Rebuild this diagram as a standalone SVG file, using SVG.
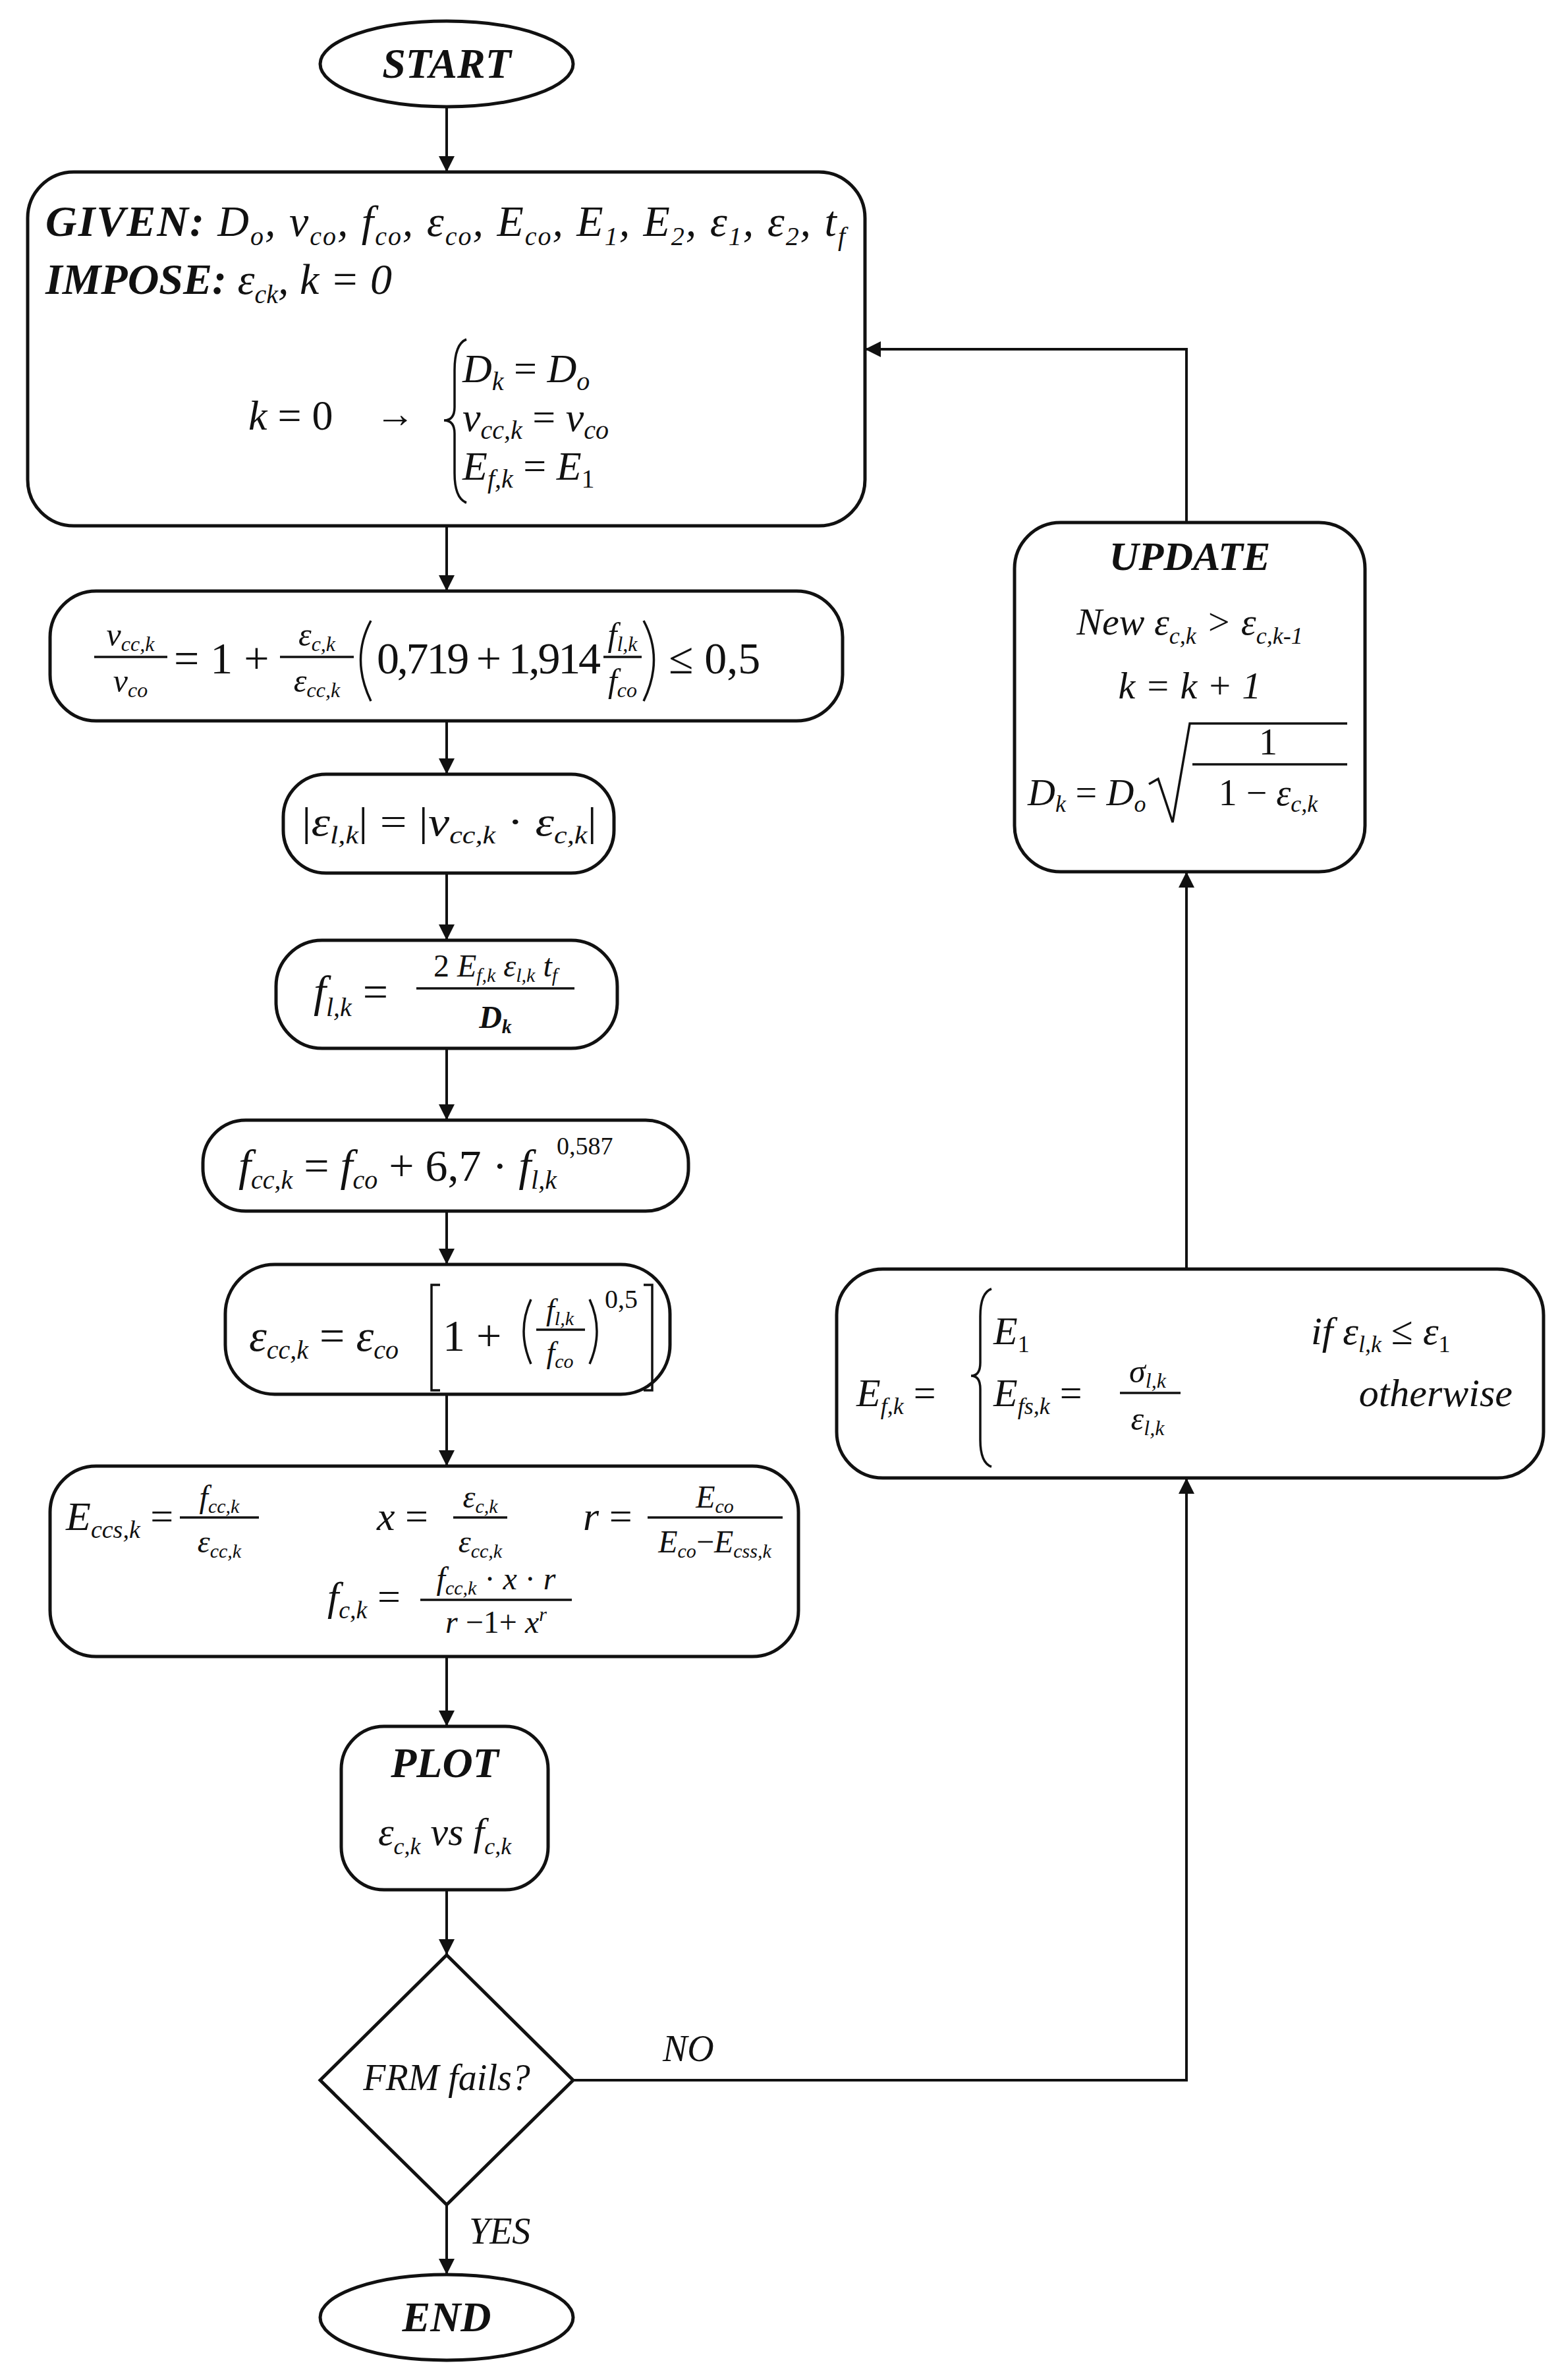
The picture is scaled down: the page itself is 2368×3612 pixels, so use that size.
<svg xmlns="http://www.w3.org/2000/svg" width="2368" height="3612" viewBox="0 0 2368 3612">
<style>
.t{font-family:"Liberation Serif","Times New Roman",serif;font-style:italic;fill:#111}
.n{font-style:normal}
.bi{font-weight:bold}
.box{fill:#fff;stroke:#111;stroke-width:5}
.c{fill:none;stroke:#111;stroke-width:4}
.ln{stroke:#111;stroke-width:3.5;fill:none}
</style>
<defs>
<marker id="a" viewBox="0 0 10 10" refX="10" refY="5" markerWidth="6" markerHeight="6" orient="auto"><path d="M0,0 L10,5 L0,10 z" fill="#111"/></marker>
</defs>
<rect width="2368" height="3612" fill="#fff"/>
<g id="connectors">
<path class="c" marker-end="url(#a)" d="M678,162 V261"/>
<path class="c" marker-end="url(#a)" d="M678,798 V897"/>
<path class="c" marker-end="url(#a)" d="M678,1094 V1175"/>
<path class="c" marker-end="url(#a)" d="M678,1325 V1427"/>
<path class="c" marker-end="url(#a)" d="M678,1591 V1700"/>
<path class="c" marker-end="url(#a)" d="M678,1838 V1919"/>
<path class="c" marker-end="url(#a)" d="M678,2116 V2225"/>
<path class="c" marker-end="url(#a)" d="M678,2514 V2620"/>
<path class="c" marker-end="url(#a)" d="M678,2868 V2967"/>
<path class="c" marker-end="url(#a)" d="M678,3346 V3452"/>
<path class="c" marker-end="url(#a)" d="M870,3157 H1801 V2243"/>
<path class="c" marker-end="url(#a)" d="M1801,1926 V1323"/>
<path class="c" marker-end="url(#a)" d="M1801,793 V530 H1313"/>
<text class="t" x="1006" y="3128" font-size="56">NO</text>
<text class="t" x="712" y="3405" font-size="56">YES</text>
</g>
<g id="start">
<ellipse class="box" cx="678" cy="97" rx="192" ry="65"/>
<text class="t bi" x="678" y="118" font-size="64" text-anchor="middle">START</text>
</g>
<g id="given">
<rect class="box" x="42" y="261" width="1271" height="537" rx="70"/>
<text class="t" x="69" y="358" font-size="66" textLength="1214" lengthAdjust="spacing"><tspan class="bi">GIVEN:</tspan> D<tspan font-size="40" dy="14">o</tspan><tspan dy="-14">, ν</tspan><tspan font-size="40" dy="14">co</tspan><tspan dy="-14">, f</tspan><tspan font-size="40" dy="14">co</tspan><tspan dy="-14">, ε</tspan><tspan font-size="40" dy="14">co</tspan><tspan dy="-14">, E</tspan><tspan font-size="40" dy="14">co</tspan><tspan dy="-14">, E</tspan><tspan font-size="40" dy="14">1</tspan><tspan dy="-14">, E</tspan><tspan font-size="40" dy="14">2</tspan><tspan dy="-14">, ε</tspan><tspan font-size="40" dy="14">1</tspan><tspan dy="-14">, ε</tspan><tspan font-size="40" dy="14">2</tspan><tspan dy="-14">, t</tspan><tspan font-size="40" dy="14">f</tspan></text>
<text class="t" x="69" y="446" font-size="66"><tspan class="bi">IMPOSE:</tspan> ε<tspan font-size="40" dy="14">ck</tspan><tspan dy="-14">, k = 0</tspan></text>
<text class="t" x="377" y="652" font-size="64">k <tspan class="n">= 0</tspan></text>
<text class="t n" x="570" y="648" font-size="60">→</text>
<path class="ln" d="M708,515 Q690,522 690,562 L690,618 Q690,638 674,638 Q690,638 690,658 L690,718 Q690,756 708,763"/>
<text class="t" x="702" y="580" font-size="62">D<tspan font-size="40" dy="12">k</tspan><tspan class="n" dy="-12"> = </tspan>D<tspan font-size="40" dy="12">o</tspan></text>
<text class="t" x="702" y="654" font-size="62">ν<tspan font-size="40" dy="12">cc,k</tspan><tspan class="n" dy="-12"> = </tspan>ν<tspan font-size="40" dy="12">co</tspan></text>
<text class="t" x="702" y="728" font-size="62">E<tspan font-size="40" dy="12">f,k</tspan><tspan class="n" dy="-12"> = </tspan>E<tspan class="n" font-size="40" dy="12">1</tspan></text>
</g>
<g id="poisson">
<rect class="box" x="76" y="897" width="1203" height="197" rx="70"/>
<text class="t" x="198" y="980" font-size="50" text-anchor="middle">ν<tspan font-size="32" dy="8">cc,k</tspan></text>
<line class="ln" x1="143" y1="997" x2="254" y2="997"/>
<text class="t" x="198" y="1050" font-size="50" text-anchor="middle">ν<tspan font-size="32" dy="8">co</tspan></text>
<text class="t n" x="264" y="1022" font-size="68">= 1 +</text>
<text class="t" x="481" y="980" font-size="50" text-anchor="middle">ε<tspan font-size="32" dy="8">c,k</tspan></text>
<line class="ln" x1="425" y1="997" x2="537" y2="997"/>
<text class="t" x="481" y="1050" font-size="50" text-anchor="middle">ε<tspan font-size="32" dy="8">cc,k</tspan></text>
<path class="ln" d="M563,942 Q532,1000 563,1064"/>
<text class="t n" x="572" y="1022" font-size="68" textLength="340" lengthAdjust="spacing">0,719 + 1,914</text>
<text class="t" x="945" y="980" font-size="50" text-anchor="middle">f<tspan font-size="32" dy="8">l,k</tspan></text>
<line class="ln" x1="916" y1="997" x2="974" y2="997"/>
<text class="t" x="945" y="1050" font-size="50" text-anchor="middle">f<tspan font-size="32" dy="8">co</tspan></text>
<path class="ln" d="M977,942 Q1008,1000 977,1064"/>
<text class="t n" x="1015" y="1022" font-size="68">≤ 0,5</text>
</g>
<g id="lateral-strain">
<rect class="box" x="430" y="1175" width="502" height="150" rx="65"/>
<text class="t" x="458" y="1268" font-size="62" textLength="448" lengthAdjust="spacingAndGlyphs"><tspan class="n">|</tspan>ε<tspan font-size="38" dy="12">l,k</tspan><tspan class="n" dy="-12">| = |</tspan>ν<tspan font-size="38" dy="12">cc,k</tspan><tspan class="n" dy="-12"> · </tspan>ε<tspan font-size="38" dy="12">c,k</tspan><tspan class="n" dy="-12">|</tspan></text>
</g>
<g id="lateral-pressure">
<rect class="box" x="419" y="1427" width="518" height="164" rx="70"/>
<text class="t" x="476" y="1528" font-size="68">f<tspan font-size="40" dy="14">l,k</tspan><tspan class="n" dy="-14"> =</tspan></text>
<text class="t" x="752" y="1482" font-size="48" text-anchor="middle"><tspan class="n">2 </tspan>E<tspan font-size="30" dy="8">f,k</tspan><tspan dy="-8"> ε</tspan><tspan font-size="30" dy="8">l,k</tspan><tspan dy="-8"> t</tspan><tspan font-size="30" dy="8">f</tspan></text>
<line class="ln" x1="632" y1="1500" x2="872" y2="1500"/>
<text class="t bi" x="752" y="1560" font-size="48" text-anchor="middle">D<tspan font-size="30" dy="8">k</tspan></text>
</g>
<g id="confined-strength">
<rect class="box" x="308" y="1700" width="737" height="138" rx="65"/>
<text class="t" x="362" y="1792" font-size="68">f<tspan font-size="40" dy="12">cc,k</tspan><tspan class="n" dy="-12"> = </tspan>f<tspan font-size="40" dy="12">co</tspan><tspan class="n" dy="-12"> + 6,7 · </tspan>f<tspan font-size="40" dy="12">l,k</tspan><tspan class="n" font-size="38" dy="-52">0,587</tspan></text>
</g>
<g id="confined-strain">
<rect class="box" x="342" y="1919" width="675" height="197" rx="75"/>
<text class="t" x="378" y="2050" font-size="68">ε<tspan font-size="40" dy="12">cc,k</tspan><tspan class="n" dy="-12"> = </tspan>ε<tspan font-size="40" dy="12">co</tspan></text>
<path class="ln" d="M668,1950 H655 V2110 H668"/>
<text class="t n" x="672" y="2050" font-size="68">1 +</text>
<path class="ln" d="M806,1972 Q784,2020 806,2070"/>
<text class="t" x="850" y="2003" font-size="46" text-anchor="middle">f<tspan font-size="30" dy="8">l,k</tspan></text>
<line class="ln" x1="814" y1="2018" x2="888" y2="2018"/>
<text class="t" x="850" y="2068" font-size="46" text-anchor="middle">f<tspan font-size="30" dy="8">co</tspan></text>
<path class="ln" d="M895,1972 Q917,2020 895,2070"/>
<text class="t n" x="918" y="1985" font-size="40">0,5</text>
<path class="ln" d="M977,1950 H990 V2110 H977"/>
</g>
<g id="popovics">
<rect class="box" x="76" y="2225" width="1136" height="289" rx="70"/>
<text class="t" x="100" y="2322" font-size="62">E<tspan font-size="38" dy="12">ccs,k</tspan><tspan class="n" dy="-12"> =</tspan></text>
<text class="t" x="333" y="2288" font-size="48" text-anchor="middle">f<tspan font-size="30" dy="8">cc,k</tspan></text>
<line class="ln" x1="273" y1="2303" x2="393" y2="2303"/>
<text class="t" x="333" y="2356" font-size="48" text-anchor="middle">ε<tspan font-size="30" dy="8">cc,k</tspan></text>
<text class="t" x="572" y="2322" font-size="62">x <tspan class="n">=</tspan></text>
<text class="t" x="729" y="2288" font-size="48" text-anchor="middle">ε<tspan font-size="30" dy="8">c,k</tspan></text>
<line class="ln" x1="688" y1="2303" x2="770" y2="2303"/>
<text class="t" x="729" y="2356" font-size="48" text-anchor="middle">ε<tspan font-size="30" dy="8">cc,k</tspan></text>
<text class="t" x="885" y="2322" font-size="62">r <tspan class="n">=</tspan></text>
<text class="t" x="1085" y="2288" font-size="48" text-anchor="middle">E<tspan font-size="30" dy="8">co</tspan></text>
<line class="ln" x1="983" y1="2303" x2="1188" y2="2303"/>
<text class="t" x="1085" y="2356" font-size="48" text-anchor="middle">E<tspan font-size="30" dy="8">co</tspan><tspan class="n" dy="-8">−</tspan>E<tspan font-size="30" dy="8">css,k</tspan></text>
<text class="t" x="497" y="2444" font-size="62">f<tspan font-size="38" dy="12">c,k</tspan><tspan class="n" dy="-12"> =</tspan></text>
<text class="t" x="753" y="2412" font-size="48" text-anchor="middle">f<tspan font-size="30" dy="8">cc,k</tspan><tspan class="n" dy="-8"> · </tspan>x<tspan class="n"> · </tspan>r</text>
<line class="ln" x1="638" y1="2428" x2="868" y2="2428"/>
<text class="t" x="753" y="2478" font-size="48" text-anchor="middle">r <tspan class="n">−1+ </tspan>x<tspan font-size="30" dy="-18">r</tspan></text>
</g>
<g id="plot">
<rect class="box" x="518" y="2620" width="314" height="248" rx="65"/>
<text class="t bi" x="675" y="2697" font-size="64" text-anchor="middle">PLOT</text>
<text class="t" x="675" y="2800" font-size="60" text-anchor="middle">ε<tspan font-size="36" dy="14">c,k</tspan><tspan dy="-14">  vs  f</tspan><tspan font-size="36" dy="14">c,k</tspan></text>
</g>
<g id="decision">
<polygon class="box" points="678,2967 870,3157 678,3346 486,3157"/>
<text class="t" x="678" y="3172" font-size="56" text-anchor="middle">FRM fails?</text>
</g>
<g id="end">
<ellipse class="box" cx="678" cy="3517" rx="192" ry="65"/>
<text class="t bi" x="678" y="3538" font-size="64" text-anchor="middle">END</text>
</g>
<g id="update">
<rect class="box" x="1540" y="793" width="532" height="530" rx="70"/>
<text class="t bi" x="1806" y="865" font-size="62" text-anchor="middle">UPDATE</text>
<text class="t" x="1806" y="963" font-size="58" text-anchor="middle">New ε<tspan font-size="36" dy="14">c,k</tspan><tspan dy="-14"> &gt; ε</tspan><tspan font-size="36" dy="14">c,k-1</tspan></text>
<text class="t" x="1806" y="1060" font-size="58" text-anchor="middle">k = k + 1</text>
<text class="t" x="1560" y="1222" font-size="58">D<tspan font-size="36" dy="10">k</tspan><tspan class="n" dy="-10"> = </tspan>D<tspan font-size="36" dy="10">o</tspan></text>
<path class="ln" d="M1744,1190 L1758,1182 L1780,1248 L1806,1098 L2045,1098"/>
<text class="t n" x="1925" y="1145" font-size="56" text-anchor="middle">1</text>
<line class="ln" x1="1810" y1="1160" x2="2045" y2="1160"/>
<text class="t" x="1925" y="1222" font-size="56" text-anchor="middle"><tspan class="n">1 −  </tspan>ε<tspan font-size="36" dy="10">c,k</tspan></text>
</g>
<g id="modulus">
<rect class="box" x="1270" y="1926" width="1073" height="317" rx="70"/>
<text class="t" x="1300" y="2134" font-size="60">E<tspan font-size="36" dy="12">f,k</tspan><tspan class="n" dy="-12"> =</tspan></text>
<path class="ln" d="M1505,1956 Q1488,1962 1488,1998 L1488,2068 Q1488,2088 1474,2088 Q1488,2088 1488,2108 L1488,2185 Q1488,2220 1505,2226"/>
<text class="t" x="1508" y="2040" font-size="60">E<tspan class="n" font-size="36" dy="12">1</tspan></text>
<text class="t" x="1990" y="2040" font-size="60">if ε<tspan font-size="36" dy="12">l,k</tspan><tspan class="n" dy="-12">  ≤  </tspan>ε<tspan class="n" font-size="36" dy="12">1</tspan></text>
<text class="t" x="1508" y="2134" font-size="60">E<tspan font-size="36" dy="12">fs,k</tspan><tspan class="n" dy="-12"> =</tspan></text>
<text class="t" x="1742" y="2098" font-size="50" text-anchor="middle">σ<tspan font-size="32" dy="8">l,k</tspan></text>
<line class="ln" x1="1700" y1="2114" x2="1792" y2="2114"/>
<text class="t" x="1742" y="2170" font-size="50" text-anchor="middle">ε<tspan font-size="32" dy="8">l,k</tspan></text>
<text class="t" x="2296" y="2134" font-size="60" text-anchor="end">otherwise</text>
</g>
</svg>
